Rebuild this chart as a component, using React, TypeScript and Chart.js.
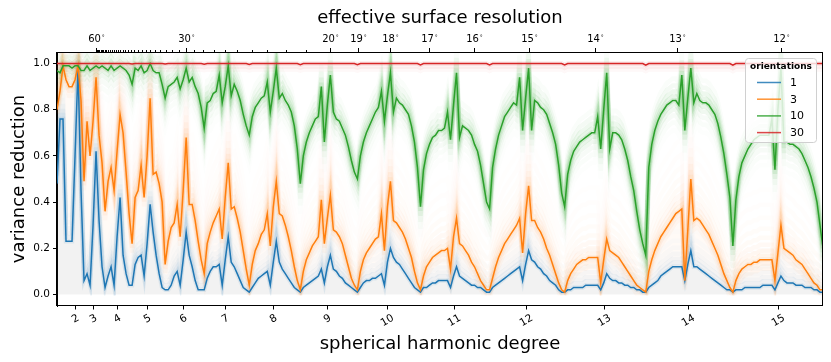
import React, { useEffect, useRef } from 'react';
import { Chart, registerables } from 'chart.js';

Chart.register(...registerables);

// ---------- data ----------
const DEGREE_TICKS = [2, 3, 4, 5, 6, 7, 8, 9, 10, 11, 12, 13, 14, 15];
const RESOLUTION_LABELED = [60, 30, 20, 19, 18, 17, 16, 15, 14, 13, 12];
const RESOLUTION_MINOR = [59, 58, 57, 56, 55, 54, 53, 52, 51, 50, 49, 48, 47, 46, 45, 44, 43, 42, 41, 40, 39, 38, 37, 36, 35, 34, 33, 32, 31, 29, 28, 27, 26, 25, 24, 23, 22, 21];
const Y_TICKS = [0, 0.2, 0.4, 0.6, 0.8, 1.0];
const SERIES_NAMES = ['1', '3', '10', '30'];
const LEGEND_TITLE = 'orientations';

// variance reduction per spherical-harmonic coefficient index (grouped by degree l)
const blue = [
  0.48,
  0.76, 0.76, 0.23,
  0.23, 0.23, 0.60, 0.98, 0.45,
  0.06, 0.09, 0.04, 0.30, 0.62, 0.32, 0.12,
  0.03, 0.08, 0.12, 0.04, 0.25, 0.42, 0.17, 0.09, 0.04,
  0.04, 0.13, 0.16, 0.17, 0.08, 0.22, 0.39, 0.27, 0.17, 0.09, 0.03,
  0.02, 0.02, 0.04, 0.08, 0.10, 0.04, 0.15, 0.27, 0.17, 0.12, 0.06, 0.02, 0.02,
  0.02, 0.07, 0.10, 0.12, 0.12, 0.13, 0.04, 0.15, 0.25, 0.14, 0.12, 0.09, 0.06, 0.03, 0.02,
  0.01, 0.03, 0.05, 0.07, 0.08, 0.09, 0.10, 0.04, 0.14, 0.23, 0.14, 0.11, 0.09, 0.07, 0.05, 0.03, 0.02,
  0.01, 0.03, 0.04, 0.05, 0.06, 0.07, 0.08, 0.11, 0.05, 0.12, 0.17, 0.11, 0.10, 0.08, 0.07, 0.05, 0.04, 0.03, 0.02,
  0.01, 0.03, 0.05, 0.06, 0.06, 0.07, 0.07, 0.08, 0.09, 0.04, 0.14, 0.20, 0.16, 0.14, 0.13, 0.11, 0.09, 0.07, 0.05, 0.03, 0.02,
  0.01, 0.03, 0.03, 0.04, 0.05, 0.05, 0.06, 0.06, 0.06, 0.06, 0.03, 0.08, 0.12, 0.08, 0.07, 0.06, 0.05, 0.04, 0.04, 0.03, 0.03, 0.02, 0.01,
  0.01, 0.03, 0.04, 0.05, 0.06, 0.07, 0.08, 0.09, 0.10, 0.11, 0.12, 0.06, 0.13, 0.19, 0.15, 0.14, 0.12, 0.11, 0.09, 0.08, 0.06, 0.05, 0.04, 0.02, 0.01,
  0.01, 0.02, 0.02, 0.03, 0.03, 0.03, 0.03, 0.04, 0.04, 0.04, 0.04, 0.04, 0.02, 0.05, 0.09, 0.07, 0.06, 0.06, 0.05, 0.05, 0.04, 0.04, 0.03, 0.03, 0.02, 0.02, 0.01,
  0.01, 0.03, 0.04, 0.05, 0.06, 0.08, 0.09, 0.10, 0.11, 0.12, 0.12, 0.12, 0.12, 0.06, 0.13, 0.19, 0.12, 0.12, 0.11, 0.10, 0.09, 0.08, 0.07, 0.06, 0.05, 0.04, 0.03, 0.02, 0.02,
  0.01, 0.02, 0.02, 0.02, 0.03, 0.03, 0.03, 0.03, 0.03, 0.03, 0.04, 0.04, 0.04, 0.04, 0.02, 0.05, 0.08, 0.06, 0.05, 0.05, 0.05, 0.04, 0.04, 0.04, 0.03, 0.03, 0.03, 0.02, 0.02, 0.01, 0.01,
];

const orange = [
  0.80,
  0.88, 0.99, 0.93,
  0.90, 0.90, 0.93, 0.99, 0.84,
  0.49, 0.75, 0.60, 0.75, 0.94, 0.69, 0.57,
  0.36, 0.49, 0.55, 0.45, 0.62, 0.78, 0.70, 0.53, 0.35,
  0.22, 0.42, 0.45, 0.56, 0.42, 0.60, 0.85, 0.52, 0.53, 0.48, 0.40,
  0.13, 0.23, 0.29, 0.31, 0.39, 0.25, 0.45, 0.68, 0.39, 0.39, 0.32, 0.23, 0.15,
  0.09, 0.22, 0.27, 0.31, 0.34, 0.37, 0.24, 0.42, 0.57, 0.37, 0.38, 0.33, 0.27, 0.19, 0.11,
  0.04, 0.13, 0.19, 0.22, 0.26, 0.28, 0.35, 0.21, 0.38, 0.49, 0.35, 0.34, 0.30, 0.25, 0.19, 0.12, 0.06,
  0.02, 0.10, 0.15, 0.18, 0.21, 0.23, 0.25, 0.41, 0.22, 0.33, 0.43, 0.28, 0.27, 0.25, 0.22, 0.17, 0.12, 0.07, 0.04,
  0.02, 0.10, 0.15, 0.18, 0.20, 0.22, 0.24, 0.25, 0.35, 0.19, 0.38, 0.49, 0.32, 0.31, 0.29, 0.27, 0.24, 0.20, 0.16, 0.10, 0.05,
  0.02, 0.08, 0.12, 0.14, 0.16, 0.17, 0.18, 0.19, 0.19, 0.20, 0.11, 0.25, 0.33, 0.22, 0.21, 0.19, 0.17, 0.14, 0.12, 0.09, 0.06, 0.04, 0.02,
  0.02, 0.07, 0.12, 0.16, 0.19, 0.22, 0.24, 0.26, 0.28, 0.30, 0.33, 0.18, 0.35, 0.47, 0.32, 0.32, 0.29, 0.27, 0.24, 0.20, 0.17, 0.13, 0.09, 0.05, 0.02,
  0.01, 0.06, 0.09, 0.11, 0.13, 0.14, 0.15, 0.15, 0.16, 0.16, 0.16, 0.16, 0.05, 0.15, 0.24, 0.19, 0.18, 0.17, 0.16, 0.14, 0.12, 0.10, 0.08, 0.06, 0.04, 0.03, 0.02,
  0.01, 0.10, 0.15, 0.19, 0.22, 0.25, 0.27, 0.29, 0.31, 0.33, 0.35, 0.36, 0.37, 0.06, 0.28, 0.50, 0.32, 0.33, 0.32, 0.30, 0.28, 0.26, 0.23, 0.20, 0.17, 0.13, 0.09, 0.06, 0.03,
  0.01, 0.06, 0.09, 0.11, 0.12, 0.13, 0.13, 0.14, 0.14, 0.15, 0.15, 0.15, 0.15, 0.15, 0.06, 0.18, 0.30, 0.20, 0.19, 0.18, 0.17, 0.15, 0.14, 0.13, 0.11, 0.09, 0.07, 0.05, 0.04, 0.02, 0.02,
];

const green = [
  0.97,
  0.96, 0.99, 0.99,
  0.99, 0.98, 0.99, 0.99, 0.97,
  0.97, 0.99, 0.97, 0.98, 0.99, 0.98, 0.99,
  0.98, 0.97, 0.99, 0.97, 0.98, 0.99, 0.98, 0.97, 0.95,
  0.91, 0.98, 0.97, 0.99, 0.96, 0.97, 1.00, 0.97, 0.96, 0.96, 0.91,
  0.85, 0.90, 0.91, 0.92, 0.94, 0.89, 0.93, 0.98, 0.92, 0.94, 0.90, 0.87, 0.81,
  0.72, 0.83, 0.84, 0.87, 0.88, 0.95, 0.83, 0.90, 0.99, 0.86, 0.91, 0.88, 0.84, 0.78, 0.73,
  0.69, 0.77, 0.81, 0.83, 0.85, 0.86, 0.92, 0.79, 0.88, 0.98, 0.85, 0.87, 0.84, 0.82, 0.79, 0.73, 0.63,
  0.48, 0.60, 0.66, 0.70, 0.73, 0.76, 0.77, 0.90, 0.66, 0.82, 0.95, 0.79, 0.76, 0.75, 0.72, 0.69, 0.64, 0.58, 0.53,
  0.50, 0.60, 0.66, 0.70, 0.73, 0.76, 0.79, 0.81, 0.88, 0.75, 0.86, 0.96, 0.79, 0.85, 0.83, 0.82, 0.80, 0.78, 0.73, 0.66, 0.55,
  0.38, 0.54, 0.61, 0.65, 0.68, 0.69, 0.71, 0.71, 0.72, 0.79, 0.67, 0.82, 0.96, 0.68, 0.73, 0.72, 0.71, 0.69, 0.65, 0.62, 0.56, 0.48, 0.40,
  0.37, 0.55, 0.63, 0.69, 0.73, 0.77, 0.79, 0.81, 0.83, 0.82, 0.94, 0.71, 0.85, 0.98, 0.71, 0.84, 0.83, 0.81, 0.80, 0.78, 0.74, 0.70, 0.65, 0.56, 0.44,
  0.38, 0.52, 0.58, 0.62, 0.64, 0.66, 0.67, 0.68, 0.69, 0.70, 0.70, 0.77, 0.63, 0.80, 0.96, 0.63, 0.70, 0.70, 0.69, 0.67, 0.63, 0.58, 0.51, 0.45, 0.36, 0.28, 0.22,
  0.17, 0.55, 0.65, 0.71, 0.75, 0.78, 0.80, 0.82, 0.83, 0.84, 0.84, 0.82, 0.95, 0.71, 0.85, 0.98, 0.83, 0.87, 0.84, 0.83, 0.83, 0.82, 0.80, 0.78, 0.74, 0.68, 0.61, 0.52, 0.42,
  0.21, 0.41, 0.51, 0.57, 0.60, 0.63, 0.65, 0.67, 0.68, 0.69, 0.69, 0.69, 0.69, 0.76, 0.54, 0.80, 0.98, 0.66, 0.66, 0.65, 0.65, 0.64, 0.63, 0.61, 0.58, 0.55, 0.51, 0.46, 0.40, 0.30, 0.20,
];

const red = [
  1,
  1, 1, 1,
  1, 1, 1, 1, 1,
  1, 1, 1, 1, 1, 1, 1,
  1, 1, 1, 1, 1, 1, 1, 1, 1,
  0.998, 1, 1, 1, 1, 1, 1, 1, 1, 1, 1,
  0.998, 1, 1, 1, 1, 1, 1, 1, 1, 1, 1, 1, 1,
  0.997, 1, 1, 1, 1, 1, 1, 1, 1, 1, 1, 1, 1, 1, 1,
  0.996, 1, 1, 1, 1, 1, 1, 1, 1, 1, 1, 1, 1, 1, 1, 1, 1,
  0.995, 1, 1, 1, 1, 1, 1, 1, 1, 1, 1, 1, 1, 1, 1, 1, 1, 1, 1,
  0.995, 1, 1, 1, 1, 1, 1, 1, 1, 1, 1, 1, 1, 1, 1, 1, 1, 1, 1, 1, 1,
  0.994, 1, 1, 1, 1, 1, 1, 1, 1, 1, 1, 1, 1, 1, 1, 1, 1, 1, 1, 1, 1, 1, 1,
  0.994, 1, 1, 1, 1, 1, 1, 1, 1, 1, 1, 1, 1, 1, 1, 1, 1, 1, 1, 1, 1, 1, 1, 1, 1,
  0.994, 1, 1, 1, 1, 1, 1, 1, 1, 1, 1, 1, 1, 1, 1, 1, 1, 1, 1, 1, 1, 1, 1, 1, 1, 1, 1,
  0.993, 1, 1, 1, 1, 1, 1, 1, 1, 1, 1, 1, 1, 1, 1, 1, 1, 1, 1, 1, 1, 1, 1, 1, 1, 1, 1, 1, 1,
  0.993, 1, 1, 1, 1, 1, 1, 1, 1, 1, 1, 1, 1, 1, 1, 1, 1, 1, 1, 1, 1, 1, 1, 1, 1, 1, 1, 1, 1, 1, 1,
];

// ---------- style ----------
const FONT = '"DejaVu Sans", "Liberation Sans", sans-serif';
const COLORS = ['#1f77b4', '#ff7f0e', '#2ca02c', '#d62728'];
const RGB = ['31,119,180', '255,127,14', '44,160,44', '214,39,40'];
// faint "cloud" copies of each line: [vertical pixel offset, alpha]
const CLOUD_STYLE: number[][][] = [
  [[0, 0.1], [-4, 0.07], [-8, 0.05], [-13, 0.035], [-19, 0.022], [-26, 0.014], [-35, 0.008]],
  [[0, 0.1], [-4, 0.08], [-9, 0.06], [-15, 0.045], [-22, 0.032], [-31, 0.022], [-42, 0.015], [-55, 0.01], [-70, 0.007], [4, 0.06], [9, 0.035]],
  [[0, 0.14], [-4, 0.11], [4, 0.1], [-9, 0.08], [9, 0.07], [-15, 0.05], [15, 0.04], [-22, 0.025], [22, 0.025], [30, 0.012]],
  [[0, 0.1], [3, 0.06], [6, 0.03]],
];
const CLIP_ZERO = [true, true, false, false];

const pts = (arr: number[]) => arr.map((y, x) => ({ x, y }));
const topPos = (deg: number) => {
  const l = 180 / deg;
  return l * (l + 1) + 1;
};

const shiftPlugin = {
  id: 'shift',
  beforeDatasetDraw(chart: any, args: any) {
    const ds = chart.data.datasets[args.index];
    if (ds.shiftY === undefined) return;
    const { ctx, chartArea: ca } = chart;
    ctx.save();
    ctx.beginPath();
    const bottom = ds.clipZero ? chart.scales.y.getPixelForValue(0) + 1 : ca.bottom;
    ctx.rect(ca.left, ca.top, ca.right - ca.left, bottom - ca.top);
    ctx.clip();
    ctx.translate(0, ds.shiftY);
  },
  afterDatasetDraw(chart: any, args: any) {
    const ds = chart.data.datasets[args.index];
    if (ds.shiftY === undefined) return;
    chart.ctx.restore();
  },
};

const decor = {
  id: 'decor',
  afterDraw(chart: any) {
    const { ctx, chartArea: ca, scales } = chart;
    const xs = scales.x;
    const L = Math.round(ca.left) - 0.5;
    const T = Math.round(ca.top) + 0.5;
    const R = Math.round(ca.right) - 0.5;
    const B = Math.round(ca.bottom) - 0.5;
    ctx.save();
    ctx.strokeStyle = '#000';
    ctx.lineWidth = 1;
    ctx.strokeRect(L, T, R - L, B - T);

    // bottom ticks + rotated labels
    ctx.fillStyle = '#000';
    DEGREE_TICKS.forEach((l) => {
      const px = Math.round(xs.getPixelForValue(l * (l + 1))) + 0.5;
      ctx.beginPath();
      ctx.moveTo(px, B);
      ctx.lineTo(px, B + 4);
      ctx.stroke();
      const t = String(l);
      ctx.font = `10.5px ${FONT}`;
      const w = ctx.measureText(t).width;
      const bh = w * 0.5 + 9 * 0.866;
      const cy = B + 4 + 4 + bh / 2;
      ctx.save();
      ctx.translate(px, cy);
      ctx.rotate(-Math.PI / 6);
      ctx.textAlign = 'center';
      ctx.textBaseline = 'middle';
      ctx.fillText(t, 0, 0);
      ctx.restore();
    });

    // top axis
    RESOLUTION_MINOR.forEach((d) => {
      const px = Math.round(xs.getPixelForValue(topPos(d))) + 0.5;
      ctx.beginPath();
      ctx.moveTo(px, T);
      ctx.lineTo(px, T - 2.5);
      ctx.stroke();
    });
    RESOLUTION_LABELED.forEach((d) => {
      const px = Math.round(xs.getPixelForValue(topPos(d))) + 0.5;
      ctx.beginPath();
      ctx.moveTo(px, T);
      ctx.lineTo(px, T - 4.5);
      ctx.stroke();
      const num = String(d);
      ctx.font = `10px ${FONT}`;
      const w1 = ctx.measureText(num).width;
      ctx.font = `6px ${FONT}`;
      const w2 = ctx.measureText('°').width;
      const x0 = px - (w1 + w2 + 1) / 2;
      ctx.textAlign = 'left';
      ctx.textBaseline = 'alphabetic';
      ctx.font = `10px ${FONT}`;
      ctx.fillText(num, x0, 41.5);
      ctx.font = `6px ${FONT}`;
      ctx.fillText('°', x0 + w1 + 1, 39);
    });

    // titles
    ctx.font = `18px ${FONT}`;
    ctx.textAlign = 'center';
    ctx.textBaseline = 'alphabetic';
    const cx = (ca.left + ca.right) / 2;
    ctx.fillText('effective surface resolution', cx, 22.5);
    ctx.fillText('spherical harmonic degree', cx, 349);
    ctx.save();
    ctx.translate(24, (ca.top + ca.bottom) / 2);
    ctx.rotate(-Math.PI / 2);
    ctx.fillText('variance reduction', 0, 0);
    ctx.restore();

    // legend
    const lx = 745.5, ly = 58.5, lw = 71, lh = 84;
    ctx.beginPath();
    ctx.roundRect(lx, ly, lw, lh, 3);
    ctx.fillStyle = 'rgba(255,255,255,0.8)';
    ctx.fill();
    ctx.strokeStyle = '#d0d0d0';
    ctx.lineWidth = 1;
    ctx.stroke();
    ctx.fillStyle = '#000';
    ctx.font = `bold 9px ${FONT}`;
    ctx.textAlign = 'center';
    ctx.textBaseline = 'middle';
    ctx.fillText(LEGEND_TITLE, 781, 67);
    SERIES_NAMES.forEach((name, i) => {
      const y = 82.5 + i * 16.7;
      ctx.strokeStyle = COLORS[i];
      ctx.globalAlpha = 0.85;
      ctx.lineWidth = 1.5;
      ctx.beginPath();
      ctx.moveTo(757, y);
      ctx.lineTo(781, y);
      ctx.stroke();
      ctx.globalAlpha = 1;
      ctx.fillStyle = '#000';
      ctx.font = `11px ${FONT}`;
      ctx.textAlign = 'left';
      ctx.fillText(name, 790, y + 0.5);
    });
    ctx.restore();
  },
};

export default function App() {
  const ref = useRef<HTMLCanvasElement>(null);
  useEffect(() => {
    const canvas = ref.current;
    if (!canvas) return;
    const series = [blue, orange, green, red];
    const datasets: any[] = [];
    // faint clouds
    datasets.push({ data: pts(blue), borderWidth: 0, fill: 'origin', backgroundColor: `rgba(${RGB[0]},0.06)`, order: 60, clip: 0 });
    datasets.push({ data: pts(orange), borderWidth: 0, fill: 'origin', backgroundColor: `rgba(${RGB[1]},0.035)`, order: 59, clip: 0 });
    series.forEach((s, i) => {
      CLOUD_STYLE[i].forEach(([dy, a], k) => {
        datasets.push({
          data: pts(s),
          borderColor: `rgba(${RGB[i]},${a})`,
          borderWidth: 4.5,
          fill: false,
          order: 50 - i * 10 - k * 0.1,
          clip: 0,
          shiftY: dy,
          clipZero: CLIP_ZERO[i],
        });
      });
    });
    // mean lines
    series.forEach((s, i) => {
      datasets.push({
        label: SERIES_NAMES[i],
        data: pts(s),
        borderColor: COLORS[i],
        borderWidth: 1.5,
        fill: false,
        order: 4 - i,
        clip: 0,
      });
    });

    const chart = new Chart(canvas, {
      type: 'line',
      data: { datasets },
      options: {
        responsive: false,
        animation: false,
        devicePixelRatio: 1,
        parsing: false,
        normalized: true,
        layout: { padding: { left: 0, right: 8, top: 52, bottom: 56 } },
        plugins: { legend: { display: false }, tooltip: { enabled: false }, title: { display: false } },
        elements: { point: { radius: 0 }, line: { tension: 0 } },
        scales: {
          x: { type: 'linear', min: 0, max: 255, display: false },
          y: {
            type: 'linear',
            min: -0.05,
            max: 1.05,
            afterBuildTicks: (s: any) => {
              s.ticks = Y_TICKS.map((v) => ({ value: v }));
            },
            afterFit: (s: any) => {
              s.width = 57;
            },
            ticks: {
              callback: (v: any) => Number(v).toFixed(1),
              font: { size: 10.5, family: FONT },
              color: '#000',
              padding: 3,
            },
            grid: { drawOnChartArea: false, drawTicks: true, tickLength: 4, color: '#000' },
            border: { display: true, color: '#000' },
          },
        },
      } as any,
      plugins: [shiftPlugin, decor],
    });
    return () => chart.destroy();
  }, []);
  return (
    <canvas
      ref={ref}
      width={831}
      height={362}
      style={{ position: 'fixed', left: 0, top: 0, width: '831px', height: '362px' }}
    />
  );
}
